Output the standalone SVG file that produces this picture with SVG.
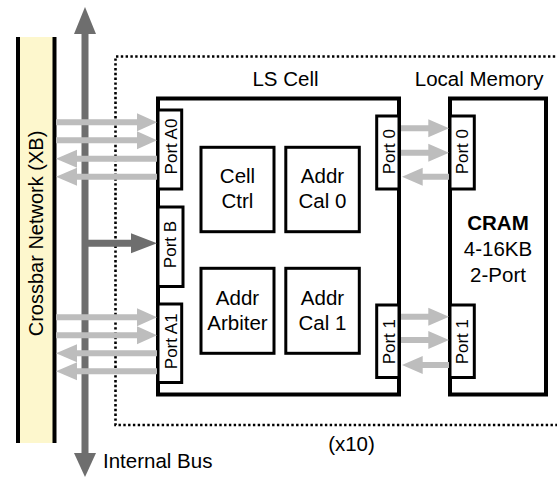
<svg xmlns="http://www.w3.org/2000/svg" width="557" height="478" viewBox="0 0 557 478">
<defs>
<style>
.t{font-family:"Liberation Sans",Arial,Helvetica,sans-serif;font-size:20.5px;fill:#000}
.p{font-family:"Liberation Sans",Arial,Helvetica,sans-serif;font-size:17px;fill:#000}
.b{font-weight:bold}
.box{fill:#fff;stroke:#000;stroke-width:4}
.port{fill:#fff;stroke:#000;stroke-width:3}
.inner{fill:#fff;stroke:#000;stroke-width:3}
.lg{fill:#bdbdbd}
.dg{fill:#6e6e6e}
</style>
</defs>
<rect width="557" height="478" fill="#fff"/>
<!-- dotted container -->
<path d="M560,56.5 H115.5 V425 H560" fill="none" stroke="#000" stroke-width="2.6" stroke-dasharray="2.4 2.4"/>
<!-- crossbar -->
<g id="crossbar">
<rect x="17" y="37" width="38" height="406" fill="#fdf7cd"/>
<rect x="16" y="37" width="4" height="406" fill="#000"/>
<rect x="52.5" y="37" width="4" height="406" fill="#000"/>
<text class="t" style="font-size:20px" transform="translate(43,233.5) rotate(-90)" text-anchor="middle">Crossbar Network (XB)</text>
</g>
<!-- internal bus -->
<g id="internal-bus">
<rect class="dg" x="81.5" y="32" width="7" height="423"/>
<polygon class="dg" points="85,7 96,34 74,34"/>
<polygon class="dg" points="85,477 96,453 74,453"/>
<text class="t" x="103" y="468">Internal Bus</text>
</g>
<!-- LS Cell -->
<g id="ls-cell">
<rect class="box" x="158" y="98.5" width="241" height="296"/>
<text class="t" x="285.5" y="85.7" text-anchor="middle">LS Cell</text>
</g>
<g id="cram">
<rect class="box" x="450" y="98.5" width="96" height="296"/>
<text class="t b" x="498" y="230" text-anchor="middle">CRAM</text>
<text class="t" x="498" y="255.5" text-anchor="middle">4-16KB</text>
<text class="t" x="498" y="282" text-anchor="middle">2-Port</text>
<text class="t" x="479.2" y="85.7" text-anchor="middle">Local Memory</text>
</g>
<g id="cell-ctrl">
<rect class="inner" x="201" y="147.3" width="73" height="84.4"/>
<text class="t" x="237.5" y="183.3" text-anchor="middle">Cell</text>
<text class="t" x="237.5" y="208.3" text-anchor="middle">Ctrl</text>
</g>
<g id="addr-cal-0">
<rect class="inner" x="285.8" y="147.3" width="73.5" height="84.4"/>
<text class="t" x="322.5" y="183.3" text-anchor="middle">Addr</text>
<text class="t" x="322.5" y="208.3" text-anchor="middle">Cal 0</text>
</g>
<g id="addr-arbiter">
<rect class="inner" x="201" y="268.3" width="73" height="85"/>
<text class="t" x="237.5" y="305" text-anchor="middle">Addr</text>
<text class="t" x="237.5" y="330" text-anchor="middle">Arbiter</text>
</g>
<g id="addr-cal-1">
<rect class="inner" x="285.8" y="268.3" width="73.5" height="85"/>
<text class="t" x="322.5" y="305" text-anchor="middle">Addr</text>
<text class="t" x="322.5" y="330" text-anchor="middle">Cal 1</text>
</g>
<!-- ports -->
<g id="port-a0">
<rect class="port" x="158" y="110" width="23.7" height="79"/>
<text class="p" transform="translate(176.7,146.5) rotate(-90)" text-anchor="middle">Port A0</text>
</g>
<g id="port-b">
<rect class="port" x="158" y="207" width="25" height="79.5"/>
<text class="p" transform="translate(175.5,244.5) rotate(-90)" text-anchor="middle">Port B</text>
</g>
<g id="port-a1">
<rect class="port" x="158" y="304" width="23.7" height="78.5"/>
<text class="p" transform="translate(176.7,341.3) rotate(-90)" text-anchor="middle">Port A1</text>
</g>
<g id="ls-port-0">
<rect class="port" x="376.7" y="116" width="22.3" height="73"/>
<text class="p" transform="translate(394.5,151.7) rotate(-90)" text-anchor="middle">Port 0</text>
</g>
<g id="ls-port-1">
<rect class="port" x="376.7" y="305" width="22.3" height="72.5"/>
<text class="p" transform="translate(395,341.7) rotate(-90)" text-anchor="middle">Port 1</text>
</g>
<g id="cram-port-0">
<rect class="port" x="450" y="116" width="24.3" height="73"/>
<text class="p" transform="translate(468.3,151.7) rotate(-90)" text-anchor="middle">Port 0</text>
</g>
<g id="cram-port-1">
<rect class="port" x="450" y="305" width="24.3" height="72.5"/>
<text class="p" transform="translate(468.3,341.7) rotate(-90)" text-anchor="middle">Port 1</text>
</g>
<text class="t" x="351.5" y="451" text-anchor="middle">(x10)</text>
<!-- connectors -->
<g id="connectors">
<path class="lg" d="M56,119.3 H137 V113.3 L157,122.3 L137,131.3 V125.3 H56 Z"/>
<path class="lg" d="M56,137.3 H137 V131.3 L157,140.3 L137,149.3 V143.3 H56 Z"/>
<path class="lg" d="M157,155.7 H77 V149.7 L56,158.7 L77,167.7 V161.7 H157 Z"/>
<path class="lg" d="M157,173.7 H77 V167.7 L56,176.7 L77,185.7 V179.7 H157 Z"/>
<path class="lg" d="M56,314.3 H137 V308.3 L157,317.3 L137,326.3 V320.3 H56 Z"/>
<path class="lg" d="M56,332.3 H137 V326.3 L157,335.3 L137,344.3 V338.3 H56 Z"/>
<path class="lg" d="M157,350.3 H77 V344.3 L56,353.3 L77,362.3 V356.3 H157 Z"/>
<path class="lg" d="M157,368.3 H77 V362.3 L56,371.3 L77,380.3 V374.3 H157 Z"/>
<path class="dg" d="M88,239.8 H131 V233.3 L157,243.3 L131,253.3 V246.8 H88 Z"/>
<path class="lg" d="M401,125.3 H428.3 V119.3 L449,128.3 L428.3,137.3 V131.3 H401 Z"/>
<path class="lg" d="M401,149.7 H428.3 V143.7 L449,152.7 L428.3,161.7 V155.7 H401 Z"/>
<path class="lg" d="M449,173.7 H422.7 V167.7 L402,176.7 L422.7,185.7 V179.7 H449 Z"/>
<path class="lg" d="M401,313.7 H428.3 V307.7 L449,316.7 L428.3,325.7 V319.7 H401 Z"/>
<path class="lg" d="M401,337 H428.3 V331 L449,340 L428.3,349 V343 H401 Z"/>
<path class="lg" d="M449,362 H422.7 V356 L402,365 L422.7,374 V368 H449 Z"/>
</g>
</svg>
